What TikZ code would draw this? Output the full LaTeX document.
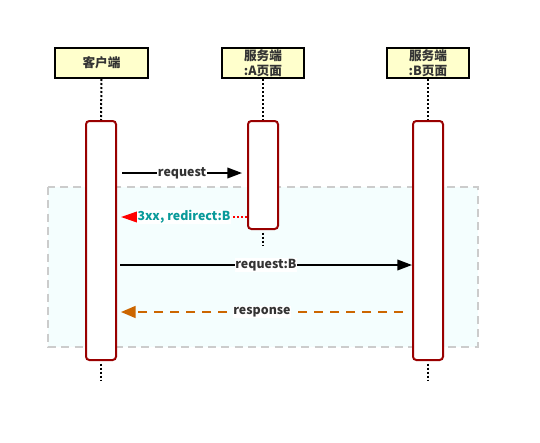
\documentclass[tikz,border=0pt]{standalone}
\usepackage{fontspec}
\setmainfont{Noto Sans CJK SC}
\usetikzlibrary{arrows.meta,calc}

\definecolor{headfill}{HTML}{FFFFCC}
\definecolor{actred}{HTML}{990000}
\definecolor{loopfill}{HTML}{F4FEFE}
\definecolor{loopline}{HTML}{CCCCCC}
\definecolor{txtgray}{HTML}{333333}
\definecolor{teal3xx}{HTML}{0A9A9A}
\definecolor{respcol}{HTML}{CC6600}

\begin{document}
\begin{tikzpicture}[x=0.75pt,y=-0.75pt,
  head/.style={draw=black,line width=1.5pt,fill=headfill,text=txtgray,
    minimum height=22.5pt,inner sep=0pt,align=center,
    font=\fontsize{9.5}{11}\selectfont\bfseries},
  act/.style={draw=actred,line width=1.5pt,fill=white,rounded corners=2.5pt,
    minimum width=22.5pt,inner sep=0pt},
  life/.style={line width=1.5pt,dash pattern=on 1.5pt off 1.5pt},
  msg/.style={line width=1.2pt,-{Triangle[length=11pt,width=8pt]}},
  lbl/.style={fill=white,inner sep=0.5pt,text=txtgray,
    font=\fontsize{9.3}{10}\selectfont\bfseries}]

\useasboundingbox (0,0) rectangle (540,443);

% loop frame
\draw[loopline,fill=loopfill,line width=1.5pt,dash pattern=on 6pt off 4pt]
  (48,187) rectangle (478,347);

% heads
\node[head,minimum width=69.75pt] (cli) at (101.5,63) {客户端};
\node[head,minimum width=61.5pt] (srvA) at (263,63) {服务端\\:A页面};
\node[head,minimum width=61.5pt] (srvB) at (428,63) {服务端\\:B页面};

% activations
\node[act,minimum height=179.25pt] (cliact) at (101,240.5) {};
\node[act,minimum height=81pt] (Aact) at (263,175) {};
\node[act,minimum height=179.25pt] (Bact) at (428,240.5) {};

\coordinate (cliend) at (101,381);
\coordinate (Aend) at (263,246);
\coordinate (Bend) at (428,381);

% lifelines
\draw[life] (cli.south) -- (cliact.north);
\draw[life] (srvA.south) -- (Aact.north);
\draw[life] (srvB.south) -- (Bact.north);
\draw[life] ([yshift=-2pt]cliact.south) -- (cliend);
\draw[life] ([yshift=-2pt]Aact.south) -- (Aend);
\draw[life] ([yshift=-2pt]Bact.south) -- (Bend);

% messages
\draw[msg] ($(cliact.east |- 0,173)+(5,0)$) -- ($(Aact.west |- 0,173)+(-5,0)$)
  node[lbl,midway] {request};
\draw[red,line width=1.2pt,dash pattern=on 1.5pt off 1.5pt,
  -{Triangle[length=12pt,width=8pt]}]
  (Aact.west |- 0,217) -- ($(cliact.east |- 0,217)+(4,0)$)
  node[lbl,midway,text=teal3xx] {3xx, redirect:B};
\draw[msg] ($(cliact.east |- 0,265)+(3,0)$) -- (Bact.west |- 0,265)
  node[lbl,midway] {request:B};
\draw[respcol,line width=1.2pt,dash pattern=on 7pt off 5pt,
  -{Triangle[length=11pt,width=9pt]}]
  ($(Bact.west |- 0,312)+(-9,0)$) -- ($(cliact.east |- 0,312)+(4,0)$)
  node[lbl,midway] {response};

\end{tikzpicture}
\end{document}
